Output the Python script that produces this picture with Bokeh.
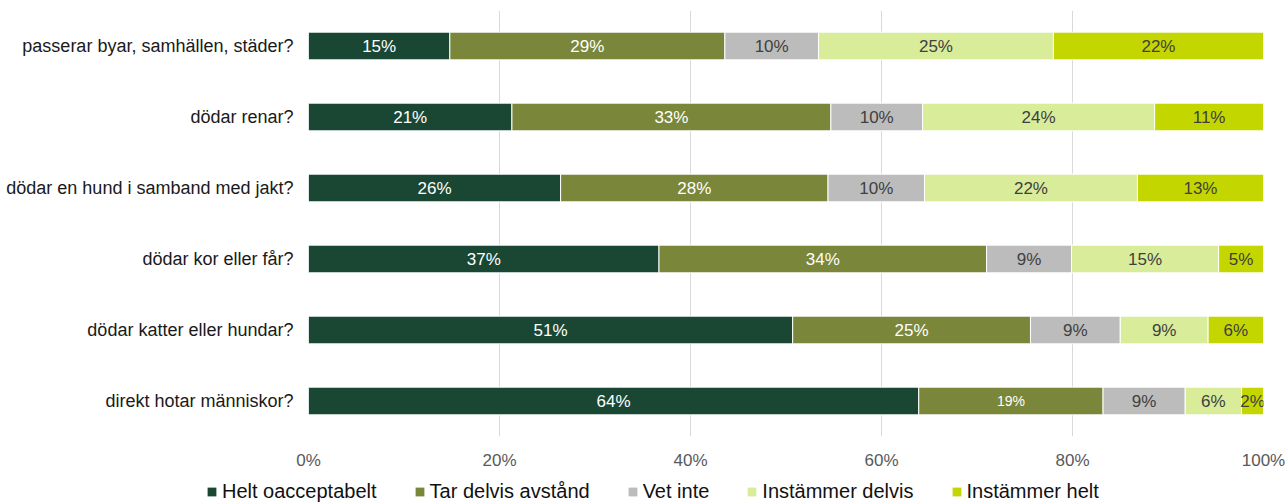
import numpy as np
from bokeh.plotting import figure
from bokeh.models import (ColumnDataSource, FactorRange, Range1d, FixedTicker,
                          NumeralTickFormatter, Legend, LegendItem)
from bokeh.embed import file_html
from bokeh.resources import INLINE
from bokeh.core.properties import value

categories = ["passerar byar, samhällen, städer?", "dödar renar?",
              "dödar en hund i samband med jakt?", "dödar kor eller får?",
              "dödar katter eller hundar?", "direkt hotar människor?"]
series = ["Helt oacceptabelt", "Tar delvis avstånd", "Vet inte",
          "Instämmer delvis", "Instämmer helt"]
helt_oacceptabelt = [14.8, 21.3, 26.4, 36.7, 50.7, 63.9]
tar_delvis_avstand = [28.8, 33.4, 28.0, 34.3, 24.9, 19.3]
vet_inte = [9.8, 9.6, 10.1, 8.9, 9.4, 8.6]
instammer_delvis = [24.6, 24.3, 22.3, 15.4, 9.2, 5.9]
instammer_helt = [22.0, 11.4, 13.2, 4.7, 5.8, 2.3]
x_ticks = [0, 0.2, 0.4, 0.6, 0.8, 1.0]

colors = ["#1a4734", "#7a863a", "#bcbcbc", "#d9ec9a", "#c4d600"]
label_colors = ["#ffffff", "#ffffff", "#404040", "#404040", "#404040"]
keys = ["s0", "s1", "s2", "s3", "s4"]
all_vals = [helt_oacceptabelt, tar_delvis_avstand, vet_inte, instammer_delvis, instammer_helt]

FONT = "Liberation Sans"

data = {"cat": categories}
for k, v in zip(keys, all_vals):
    data[k] = [x / 100.0 for x in v]
src = ColumnDataSource(data)

p = figure(width=1288, height=472, output_backend="svg", toolbar_location=None,
           y_range=FactorRange(factors=list(reversed(categories))),
           x_range=Range1d(0, 1),
           min_border_left=308, min_border_right=25, min_border_top=10,
           min_border_bottom=32)
p.outline_line_color = None

rs = p.hbar_stack(keys, y="cat", height=0.39, color=colors, source=src,
                  line_color="white", line_width=1)

# labels at segment centres
lx, ly, lt, lc, lf = [], [], [], [], []
arr = np.array(all_vals, dtype=float)
cum = np.cumsum(arr, axis=0)
for si in range(arr.shape[0]):
    for ci, cat in enumerate(categories):
        v = arr[si, ci]
        start = cum[si, ci] - v
        lx.append((start + v / 2) / 100.0)
        ly.append(cat)
        lt.append(f"{int(round(v))}%")
        lc.append(label_colors[si])
        lf.append("14px" if (si == 1 and ci == 5) else "17px")
lsrc = ColumnDataSource(dict(x=lx, y=ly, t=lt, c=lc, fs=lf))
p.text(x="x", y="y", text="t", source=lsrc, text_color="c", text_font_size="fs",
       text_align="center", text_baseline="middle", text_font=value(FONT))

p.xaxis.ticker = FixedTicker(ticks=x_ticks)
p.xaxis.formatter = NumeralTickFormatter(format="0%")
p.xaxis.axis_line_color = None
p.xaxis.major_tick_line_color = None
p.xaxis.minor_tick_line_color = None
p.xaxis.major_tick_out = 0
p.xaxis.minor_tick_out = 0
p.xaxis.major_label_text_font = FONT
p.xaxis.major_label_text_font_size = "17px"
p.xaxis.major_label_text_color = "#595959"
p.xaxis.major_label_standoff = 14

p.yaxis.axis_line_color = None
p.yaxis.major_tick_line_color = None
p.yaxis.minor_tick_line_color = None
p.yaxis.major_tick_out = 0
p.yaxis.minor_tick_out = 0
p.yaxis.major_label_text_font = FONT
p.yaxis.major_label_text_font_size = "18px"
p.yaxis.major_label_text_color = "#1a1a1a"
p.yaxis.major_label_standoff = 15

p.ygrid.grid_line_color = None
p.xgrid.ticker = FixedTicker(ticks=x_ticks)
p.xgrid.grid_line_color = "#d9d9d9"
p.xgrid.grid_line_width = 1

# legend in its own strip below (separate root so its frame starts at x=0)
p2 = figure(width=1288, height=32, output_backend="svg", toolbar_location=None,
            x_range=Range1d(0, 1), y_range=Range1d(0, 1),
            x_axis_type=None, y_axis_type=None,
            min_border=0, min_border_left=0, min_border_right=0,
            min_border_top=0, min_border_bottom=0)
p2.outline_line_color = None
p2.grid.grid_line_color = None
dummy = ColumnDataSource(dict(y=[-5.0], left=[-5.0], right=[-4.0]))
lrs = [p2.hbar(y="y", left="left", right="right", height=0.5, source=dummy,
               fill_color=c, line_color=None) for c in colors]
items = [LegendItem(label=s, renderers=[r]) for s, r in zip(series, lrs)]
legend = Legend(items=items, orientation="horizontal", location=(206, 1),
                glyph_width=11, glyph_height=11, label_standoff=5, spacing=37,
                label_text_font=FONT, label_text_font_size="20px",
                label_text_color="#111111", border_line_color=None,
                background_fill_alpha=0, padding=0, margin=0)
p2.add_layout(legend, "center")

open("out.html", "w").write(file_html([p, p2], INLINE))
